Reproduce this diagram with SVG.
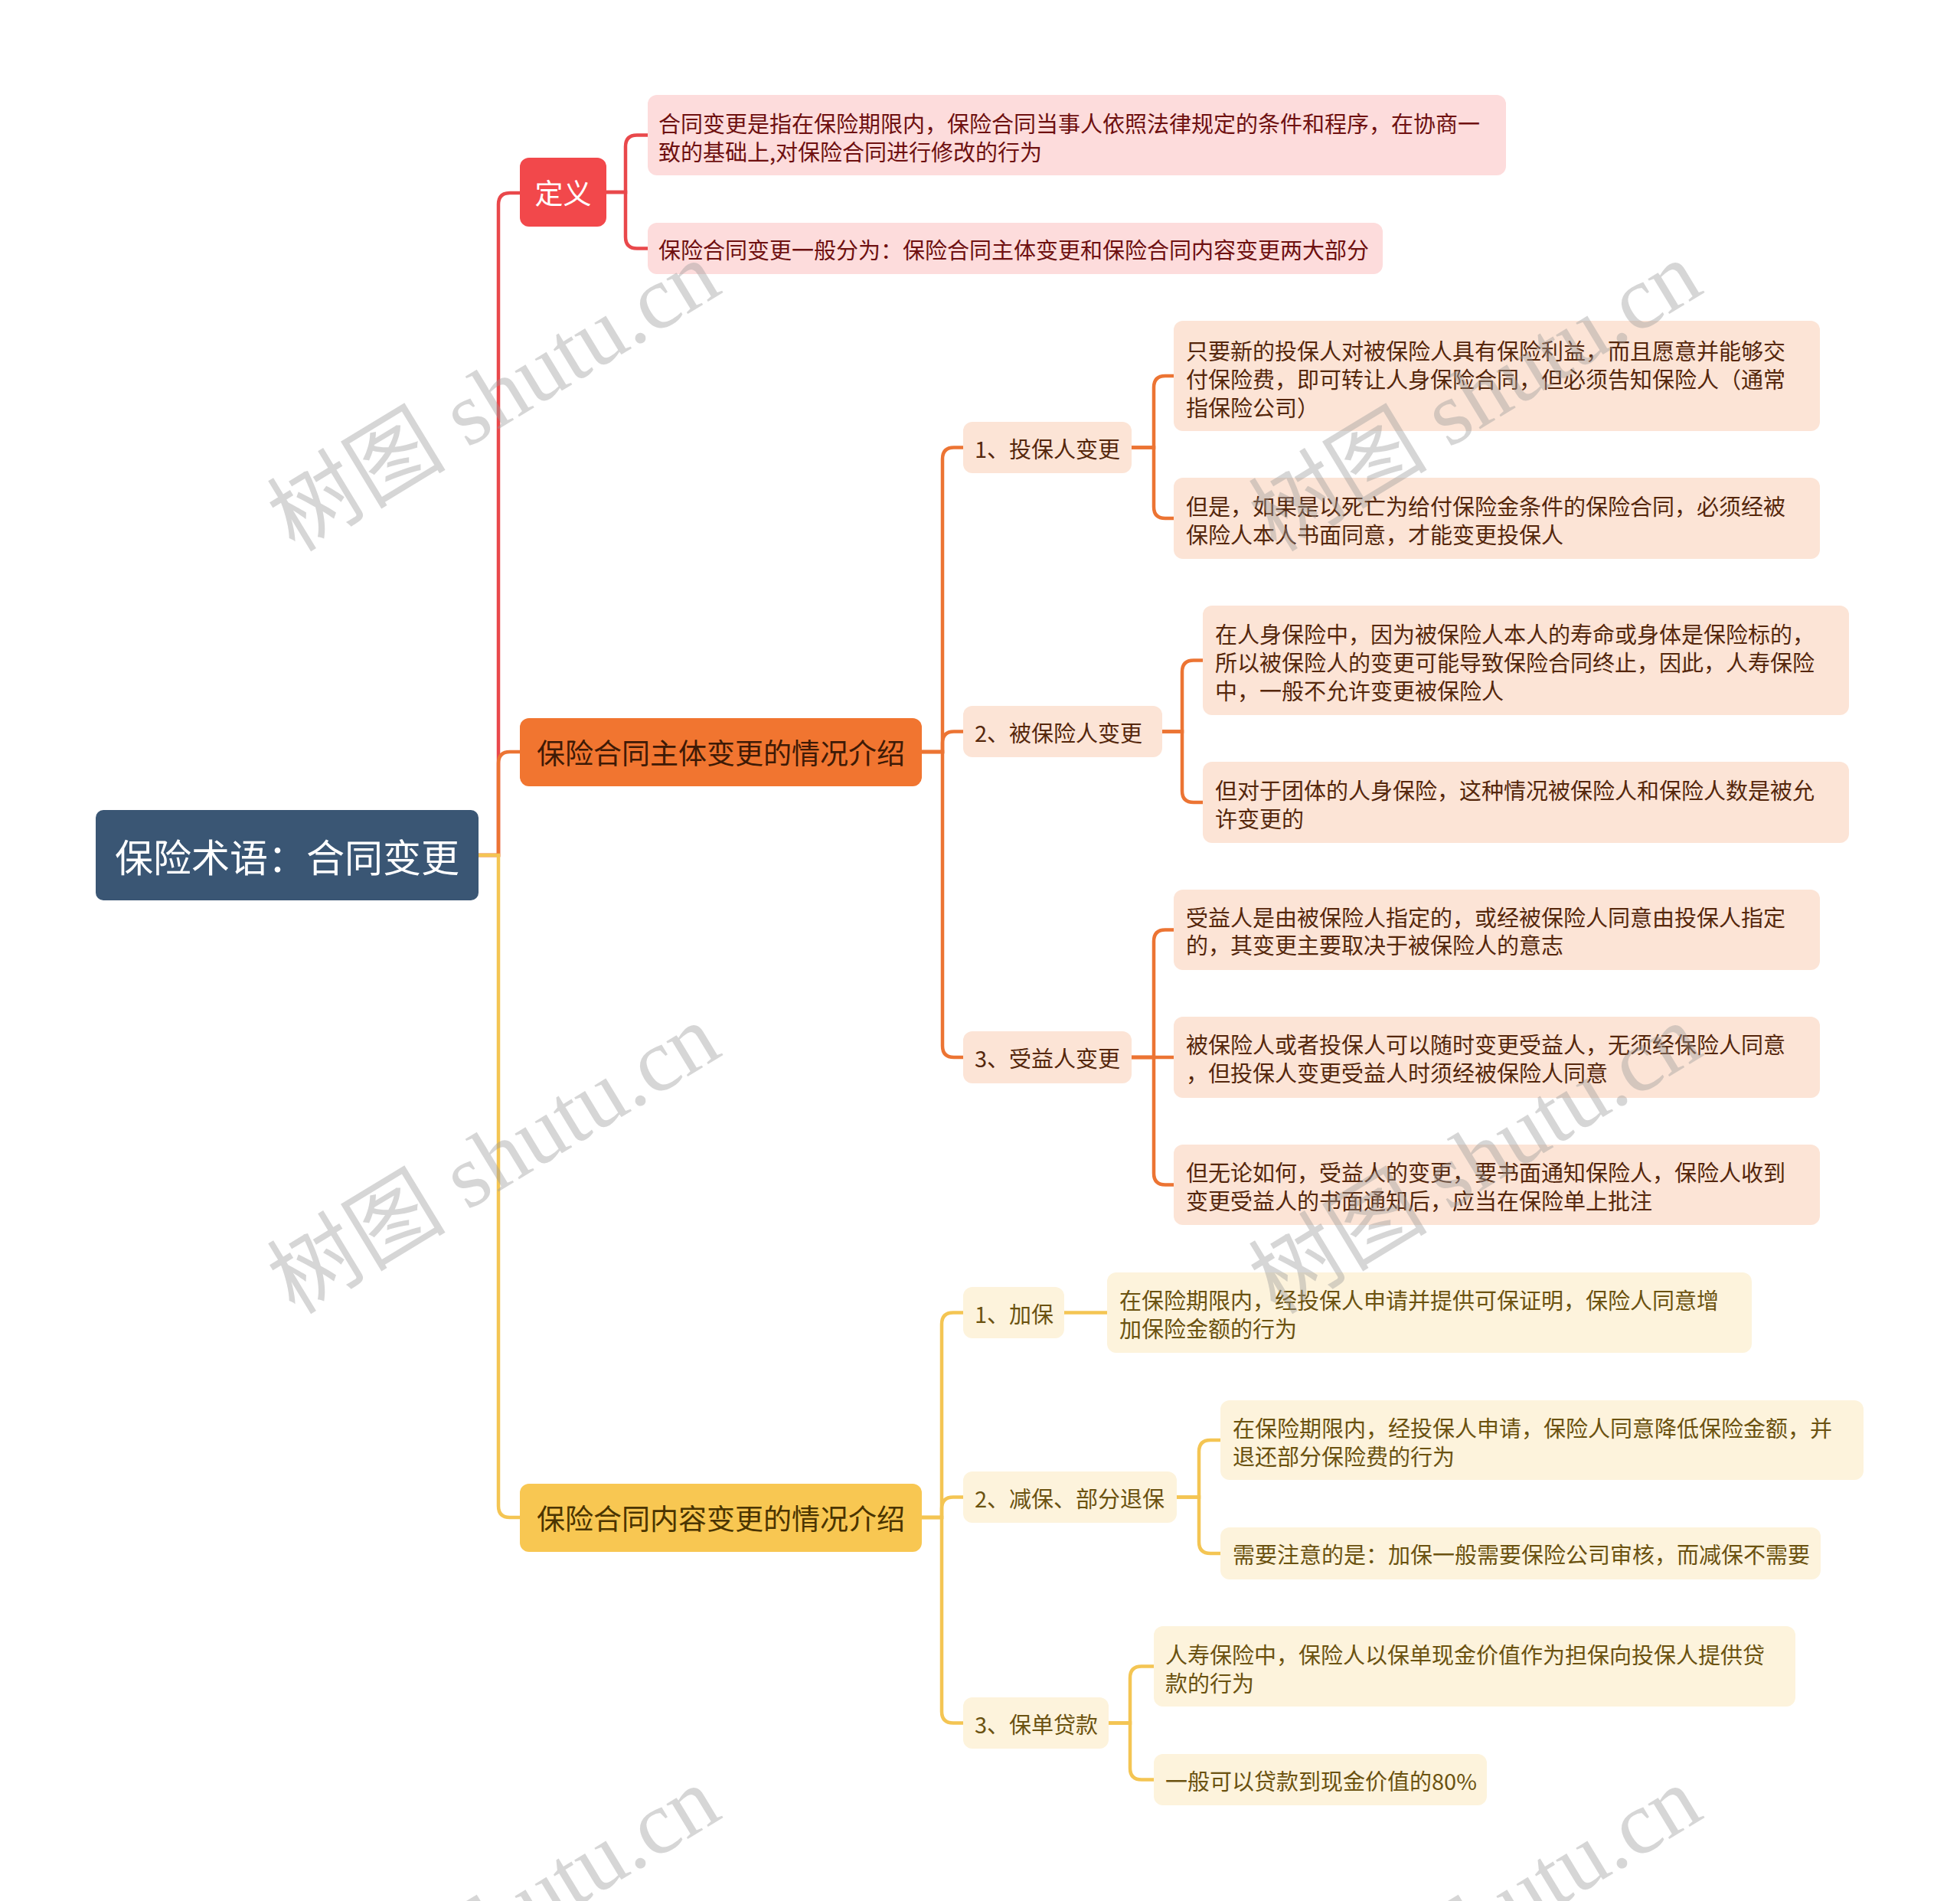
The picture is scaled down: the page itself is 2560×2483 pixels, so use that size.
<svg xmlns="http://www.w3.org/2000/svg" width="2560" height="2483" viewBox="0 0 2560 2483">
<style>
text{font-family:"Noto Sans CJK SC","Noto Sans",sans-serif;dominant-baseline:central}
.root{fill:#3a5674}
.rt{fill:#fff;font-size:50px;text-anchor:middle}
.l1t{font-size:37px;text-anchor:middle}
.t{font-size:29px}
.rleaf{fill:#fddcdc}.rtx{fill:#6e1010}
.oleaf{fill:#fce4d6}.otx{fill:#55270c}
.yleaf{fill:#fdf3dc}.ytx{fill:#6b5210}
.cr{fill:none;stroke:#e9484b;stroke-width:4.5}
.co{fill:none;stroke:#ec7433;stroke-width:4.5}
.cy{fill:none;stroke:#f4c553;stroke-width:4.5}
.wm{font-family:"Liberation Serif","Noto Sans CJK SC",serif;font-size:117px;fill:#9a9a9a;opacity:0.4;text-anchor:middle}
</style>
<rect width="2560" height="2483" fill="#fff"/>
<g id="connectors">
<path class="cr" d="M625,1117 H651 V267 Q651,252 666,252 H679"/>
<path class="co" d="M625,1117 H651 V997 Q651,982 666,982 H679"/>
<path class="cy" d="M625,1117 H651 V1967 Q651,1982 666,1982 H679"/>
<path class="cr" d="M792,251 H817 V191.5 Q817,176.5 832,176.5 H846"/>
<path class="cr" d="M792,251 H817 V309.5 Q817,324.5 832,324.5 H846"/>
<path class="co" d="M1204,982 H1231 V599.5 Q1231,584.5 1246,584.5 H1258"/>
<path class="co" d="M1204,982 H1231 V970.5 Q1231,955.5 1246,955.5 H1258"/>
<path class="co" d="M1204,982 H1231 V1366 Q1231,1381 1246,1381 H1258"/>
<path class="co" d="M1478,584.5 H1507 V506 Q1507,491 1522,491 H1533"/>
<path class="co" d="M1478,584.5 H1507 V662 Q1507,677 1522,677 H1533"/>
<path class="co" d="M1518,955.5 H1544 V877.5 Q1544,862.5 1559,862.5 H1571"/>
<path class="co" d="M1518,955.5 H1544 V1033 Q1544,1048 1559,1048 H1571"/>
<path class="co" d="M1478,1381 H1507 V1229.5 Q1507,1214.5 1522,1214.5 H1533"/>
<path class="co" d="M1478,1381 H1533"/>
<path class="co" d="M1478,1381 H1507 V1532.5 Q1507,1547.5 1522,1547.5 H1533"/>
<path class="cy" d="M1204,1982 H1230 V1729.5 Q1230,1714.5 1245,1714.5 H1258"/>
<path class="cy" d="M1204,1982 H1230 V1970.5 Q1230,1955.5 1245,1955.5 H1258"/>
<path class="cy" d="M1204,1982 H1230 V2235.5 Q1230,2250.5 1245,2250.5 H1258"/>
<path class="cy" d="M1390,1714.5 H1446"/>
<path class="cy" d="M1537,1955.5 H1566 V1896 Q1566,1881 1581,1881 H1594"/>
<path class="cy" d="M1537,1955.5 H1566 V2014 Q1566,2029 1581,2029 H1594"/>
<path class="cy" d="M1448,2250.5 H1476 V2191.5 Q1476,2176.5 1491,2176.5 H1507"/>
<path class="cy" d="M1448,2250.5 H1476 V2309.5 Q1476,2324.5 1491,2324.5 H1507"/>
</g>
<g id="root"><rect class="root" x="125" y="1058" width="500" height="118" rx="10"/><text class="rt" x="375" y="1117">保险术语：合同变更</text></g>
<g id="n-def"><rect x="679" y="206" width="113" height="90" rx="12" fill="#f2484b"/><text class="l1t" x="735.5" y="251" fill="#fff">定义</text></g>
<g id="n-def-a"><rect class="rleaf" x="846" y="124" width="1121" height="105" rx="12"/><text class="t rtx" x="860" y="160">合同变更是指在保险期限内，保险合同当事人依照法律规定的条件和程序，在协商一</text><text class="t rtx" x="860" y="197">致的基础上,对保险合同进行修改的行为</text></g>
<g id="n-def-b"><rect class="rleaf" x="846" y="291" width="960" height="67" rx="12"/><text class="t rtx" x="860" y="325">保险合同变更一般分为：保险合同主体变更和保险合同内容变更两大部分</text></g>
<g id="n-subj"><rect x="679" y="938" width="525" height="89" rx="12" fill="#f17530"/><text class="l1t" x="941.5" y="982" fill="#3e1a06">保险合同主体变更的情况介绍</text></g>
<g id="n-s1"><rect class="oleaf" x="1258" y="551" width="220" height="67" rx="12"/><text class="t otx" x="1273" y="584.5">1、投保人变更</text></g>
<g id="n-s1a"><rect class="oleaf" x="1533" y="419" width="844" height="144" rx="12"/><text class="t otx" x="1549" y="457">只要新的投保人对被保险人具有保险利益，而且愿意并能够交</text><text class="t otx" x="1549" y="494">付保险费，即可转让人身保险合同，但必须告知保险人（通常</text><text class="t otx" x="1549" y="531">指保险公司）</text></g>
<g id="n-s1b"><rect class="oleaf" x="1533" y="624" width="844" height="106" rx="12"/><text class="t otx" x="1549" y="660">但是，如果是以死亡为给付保险金条件的保险合同，必须经被</text><text class="t otx" x="1549" y="697">保险人本人书面同意，才能变更投保人</text></g>
<g id="n-s2"><rect class="oleaf" x="1258" y="922" width="260" height="67" rx="12"/><text class="t otx" x="1273" y="955.5">2、被保险人变更</text></g>
<g id="n-s2a"><rect class="oleaf" x="1571" y="791" width="844" height="143" rx="12"/><text class="t otx" x="1587" y="827">在人身保险中，因为被保险人本人的寿命或身体是保险标的，</text><text class="t otx" x="1587" y="864">所以被保险人的变更可能导致保险合同终止，因此，人寿保险</text><text class="t otx" x="1587" y="901">中，一般不允许变更被保险人</text></g>
<g id="n-s2b"><rect class="oleaf" x="1571" y="995" width="844" height="106" rx="12"/><text class="t otx" x="1587" y="1031">但对于团体的人身保险，这种情况被保险人和保险人数是被允</text><text class="t otx" x="1587" y="1068">许变更的</text></g>
<g id="n-s3"><rect class="oleaf" x="1258" y="1347" width="220" height="68" rx="12"/><text class="t otx" x="1273" y="1381">3、受益人变更</text></g>
<g id="n-s3a"><rect class="oleaf" x="1533" y="1162" width="844" height="105" rx="12"/><text class="t otx" x="1549" y="1197">受益人是由被保险人指定的，或经被保险人同意由投保人指定</text><text class="t otx" x="1549" y="1233">的，其变更主要取决于被保险人的意志</text></g>
<g id="n-s3b"><rect class="oleaf" x="1533" y="1328" width="844" height="106" rx="12"/><text class="t otx" x="1549" y="1363">被保险人或者投保人可以随时变更受益人，无须经保险人同意</text><text class="t otx" x="1549" y="1400">，但投保人变更受益人时须经被保险人同意</text></g>
<g id="n-s3c"><rect class="oleaf" x="1533" y="1495" width="844" height="105" rx="12"/><text class="t otx" x="1549" y="1530">但无论如何，受益人的变更，要书面通知保险人，保险人收到</text><text class="t otx" x="1549" y="1567">变更受益人的书面通知后，应当在保险单上批注</text></g>
<g id="n-cont"><rect x="679" y="1938" width="525" height="89" rx="12" fill="#f8c752"/><text class="l1t" x="941.5" y="1982" fill="#4a3400">保险合同内容变更的情况介绍</text></g>
<g id="n-c1"><rect class="yleaf" x="1258" y="1681" width="132" height="67" rx="12"/><text class="t ytx" x="1273" y="1714.5">1、加保</text></g>
<g id="n-c1a"><rect class="yleaf" x="1446" y="1662" width="842" height="105" rx="12"/><text class="t ytx" x="1462" y="1697">在保险期限内，经投保人申请并提供可保证明，保险人同意增</text><text class="t ytx" x="1462" y="1734">加保险金额的行为</text></g>
<g id="n-c2"><rect class="yleaf" x="1258" y="1922" width="279" height="67" rx="12"/><text class="t ytx" x="1273" y="1955.5">2、减保、部分退保</text></g>
<g id="n-c2a"><rect class="yleaf" x="1594" y="1829" width="840" height="104" rx="12"/><text class="t ytx" x="1610" y="1864">在保险期限内，经投保人申请，保险人同意降低保险金额，并</text><text class="t ytx" x="1610" y="1901">退还部分保险费的行为</text></g>
<g id="n-c2b"><rect class="yleaf" x="1594" y="1995" width="784" height="68" rx="12"/><text class="t ytx" x="1610" y="2029">需要注意的是：加保一般需要保险公司审核，而减保不需要</text></g>
<g id="n-c3"><rect class="yleaf" x="1258" y="2217" width="190" height="67" rx="12"/><text class="t ytx" x="1273" y="2250.5">3、保单贷款</text></g>
<g id="n-c3a"><rect class="yleaf" x="1507" y="2124" width="838" height="105" rx="12"/><text class="t ytx" x="1522" y="2160">人寿保险中，保险人以保单现金价值作为担保向投保人提供贷</text><text class="t ytx" x="1522" y="2197">款的行为</text></g>
<g id="n-c3b"><rect class="yleaf" x="1507" y="2291" width="435" height="67" rx="12"/><text class="t ytx" x="1522" y="2324.5">一般可以贷款到现金价值的80%</text></g>
<g id="watermarks">
<text class="wm" transform="translate(645,518) rotate(-31.3)">树图 shutu.cn</text>
<text class="wm" transform="translate(1927,518) rotate(-31.3)">树图 shutu.cn</text>
<text class="wm" transform="translate(645,1514) rotate(-31.3)">树图 shutu.cn</text>
<text class="wm" transform="translate(1927,1514) rotate(-31.3)">树图 shutu.cn</text>
<text class="wm" transform="translate(645,2510) rotate(-31.3)">树图 shutu.cn</text>
<text class="wm" transform="translate(1927,2510) rotate(-31.3)">树图 shutu.cn</text>
</g>
</svg>
